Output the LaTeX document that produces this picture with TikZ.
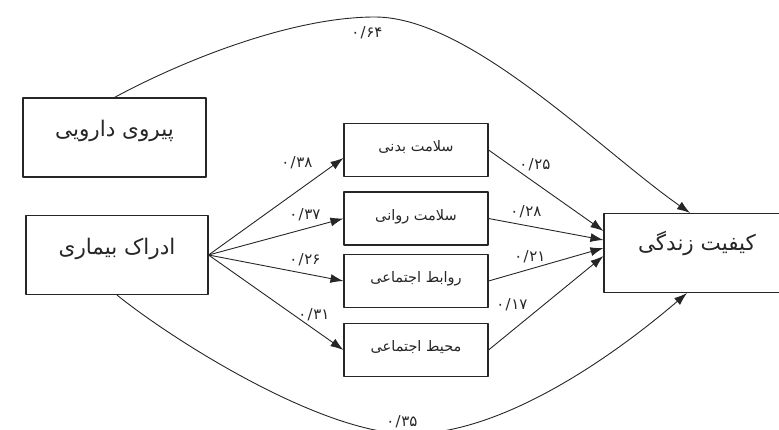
\documentclass[tikz,border=0pt]{standalone}
\usepackage{fontspec}
\newfontfamily\fa[Script=Arabic]{DejaVu Sans}
\TeXXeTstate=1
\usetikzlibrary{arrows.meta}
\definecolor{ink}{HTML}{262626}
\newcommand\coefnum[2]{\hbox{#1}\kern1.2pt\hbox{/}\kern0.6pt\hbox{#2}}
\begin{document}
\begin{tikzpicture}[x=1pt,y=-1pt,line join=round,
  box/.style={draw=ink,line width=1.1pt,rectangle,inner sep=0pt,text=ink},
  bigbox/.style={box,minimum height=79pt,font=\fa\fontsize{21.5}{24}\selectfont,text height=19.4pt},
  midbox/.style={box,minimum width=144pt,minimum height=53pt,font=\fa\fontsize{14.5}{17}\selectfont,text height=13.05pt,text depth=9.9pt},
  conn/.style={draw=ink,line width=0.9pt},
  arr/.style={conn,-{Latex[length=13pt,width=9pt]}},
  coef/.style={font=\fa\fontsize{15}{17}\selectfont,inner sep=1pt,text=ink}]
\path[use as bounding box] (0,0) rectangle (779,430);
\clip (0,0) rectangle (779,430);
% boxes
\node[bigbox,minimum width=183pt,text depth=21.2pt] (p) at (114.5,137.5) {\beginR پیروی دارویی\endR};
\node[bigbox,minimum width=182pt,text depth=20.2pt] (a) at (117,255) {\beginR ادراک بیماری\endR};
\node[midbox] (b1) at (416,150) {\beginR سلامت بدنی\endR};
\node[midbox] (b2) at (416,218.5) {\beginR سلامت روانی\endR};
\node[midbox] (b3) at (416,281) {\beginR روابط اجتماعی\endR};
\node[midbox] (b4) at (416,350) {\beginR محیط اجتماعی\endR};
\node[bigbox,minimum width=186pt,text depth=24.2pt] (k) at (697,253) {\beginR کیفیت زندگی\endR};
% curved direct paths
\draw[arr] (p.north) .. controls (180,62) and (290,17) .. (375,17)
  .. controls (470,17) and (600,150) .. ([xshift=-7pt]k.north);
\draw[arr] (a.south) .. controls (170,338) and (320,434) .. (410,434)
  .. controls (505,434) and (617,353) .. ([xshift=-10pt]k.south);
% fan out
\draw[arr] (a.east) -- ([yshift=-8pt]b1.west);
\draw[arr] (a.east) -- (b2.west);
\draw[arr] (a.east) -- (b3.west);
\draw[arr] (a.east) -- (b4.west);
% fan in
\draw[arr] (b1.east) -- ([yshift=22pt]k.west);
\draw[arr] (b2.east) -- ([yshift=13pt]k.west);
\draw[arr] (b3.east) -- ([yshift=5pt]k.west);
\draw[arr] (b4.east) -- ([yshift=-3pt]k.west);
% coefficients
\node[coef] (c64) at (367,33) {\coefnum{۰}{۶۴}};
\node[coef] (c38) at (297,163) {\coefnum{۰}{۳۸}};
\node[coef] (c37) at (305,215) {\coefnum{۰}{۳۷}};
\node[coef] (c26) at (305,260) {\coefnum{۰}{۲۶}};
\node[coef] (c31) at (314,315) {\coefnum{۰}{۳۱}};
\node[coef] (c25) at (535,165) {\coefnum{۰}{۲۵}};
\node[coef] (c28) at (526,212) {\coefnum{۰}{۲۸}};
\node[coef] (c21) at (530,257) {\coefnum{۰}{۲۱}};
\node[coef] (c17) at (512,305) {\coefnum{۰}{۱۷}};
\node[coef,fill=white] (c35) at (402,422) {\coefnum{۰}{۳۵}};
\end{tikzpicture}
\end{document}
